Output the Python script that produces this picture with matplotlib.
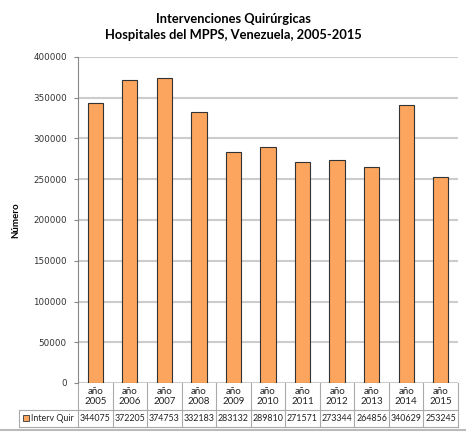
import matplotlib.pyplot as plt
from matplotlib.patches import Rectangle
from matplotlib.lines import Line2D

years = ["2005", "2006", "2007", "2008", "2009", "2010",
         "2011", "2012", "2013", "2014", "2015"]
interv_quir = [344075, 372205, 374753, 332183, 283132, 289810,
               271571, 273344, 264856, 340629, 253245]
series_name = "Interv Quir"

BAR_COLOR = "#FBA55E"
GRID_COLOR = "#CCCCCC"
LINE_COLOR = "#AAAAAA"
TXT_FONT = "Lato"

W, H = 466, 432
fig = plt.figure(figsize=(W / 100, H / 100), dpi=100)
ax = fig.add_axes([78 / W, 1 - 383 / H, (458 - 78) / W, (383 - 57) / H])

x = list(range(len(years)))
ax.bar(x, interv_quir, width=0.44, color=BAR_COLOR, edgecolor="#333333",
       linewidth=0.8, zorder=3)

ax.set_xlim(-0.5, len(years) - 0.5)
ax.set_ylim(0, 400000)
ax.set_yticks(range(0, 400001, 50000))
ax.set_yticklabels([str(v) for v in range(0, 400001, 50000)],
                   fontsize=6.3, color="#333333")
ax.tick_params(axis="y", length=3, color="#888888", pad=5)
ax.set_xticks([])
ax.yaxis.grid(True, color=GRID_COLOR, linewidth=1.5, zorder=0)
for s in ["top", "right", "bottom"]:
    ax.spines[s].set_visible(False)
ax.spines["left"].set_color("#888888")

ax.set_ylabel("Número", fontsize=7, fontweight="bold", family=TXT_FONT)
ax.yaxis.set_label_coords(-58 / 380, 0.5)

fig.text(0.5, 1 - 19 / H, "Intervenciones Quirúrgicas", ha="center",
         va="center", fontsize=9.3, fontweight="bold", family=TXT_FONT)
fig.text(0.5, 1 - 35 / H, "Hospitales del MPPS, Venezuela, 2005-2015",
         ha="center", va="center", fontsize=9.3, fontweight="bold",
         family=TXT_FONT)

# tabla de datos bajo el eje, dibujada a mano
tr = ax.get_xaxis_transform()
y_head = -27 / 326
y_bot = -44 / 326
n = len(years)
for i in range(n + 1):
    ax.add_line(Line2D([i - 0.5, i - 0.5], [0, y_bot], transform=tr,
                       color=LINE_COLOR, lw=0.8, clip_on=False))
ax.add_line(Line2D([-0.5, n - 0.5], [y_head, y_head], transform=tr,
                   color=LINE_COLOR, lw=0.8, clip_on=False))
ax.add_line(Line2D([-0.5, n - 0.5], [y_bot, y_bot], transform=tr,
                   color=LINE_COLOR, lw=0.8, clip_on=False))
for i, (yr, v) in enumerate(zip(years, interv_quir)):
    ax.text(i, y_head / 2, "año\n" + yr, transform=tr, ha="center",
            va="center", fontsize=7, color="#222222", linespacing=1.25,
            family=TXT_FONT)
    ax.text(i, (y_head + y_bot) / 2, str(v), transform=tr, ha="center",
            va="center", fontsize=6.4, color="#222222", family=TXT_FONT)

# celda de la serie (leyenda)
fy0, fy1 = 1 - 427 / H, 1 - 410 / H
fx0, fx1 = 19 / W, 78 / W
fig.add_artist(Line2D([fx0, fx0, fx1], [fy1, fy0, fy0], color=LINE_COLOR,
                      lw=0.8, transform=fig.transFigure))
fig.add_artist(Line2D([fx0, fx1], [fy1, fy1], color=LINE_COLOR,
                      lw=0.8, transform=fig.transFigure))
fig.patches.append(Rectangle((23 / W, 1 - 421 / H), 6 / W, 6 / H,
                             transform=fig.transFigure, facecolor=BAR_COLOR,
                             edgecolor="#333333", linewidth=0.6))
fig.text(31 / W, (fy0 + fy1) / 2, series_name, ha="left", va="center",
         fontsize=6.4, color="#222222", family=TXT_FONT)

fig.add_artist(Line2D([0, 1], [1 - 430 / H, 1 - 430 / H],
                      color="#BBBBBB", linewidth=1.5,
                      transform=fig.transFigure))

fig.savefig("out.png", dpi=100)
